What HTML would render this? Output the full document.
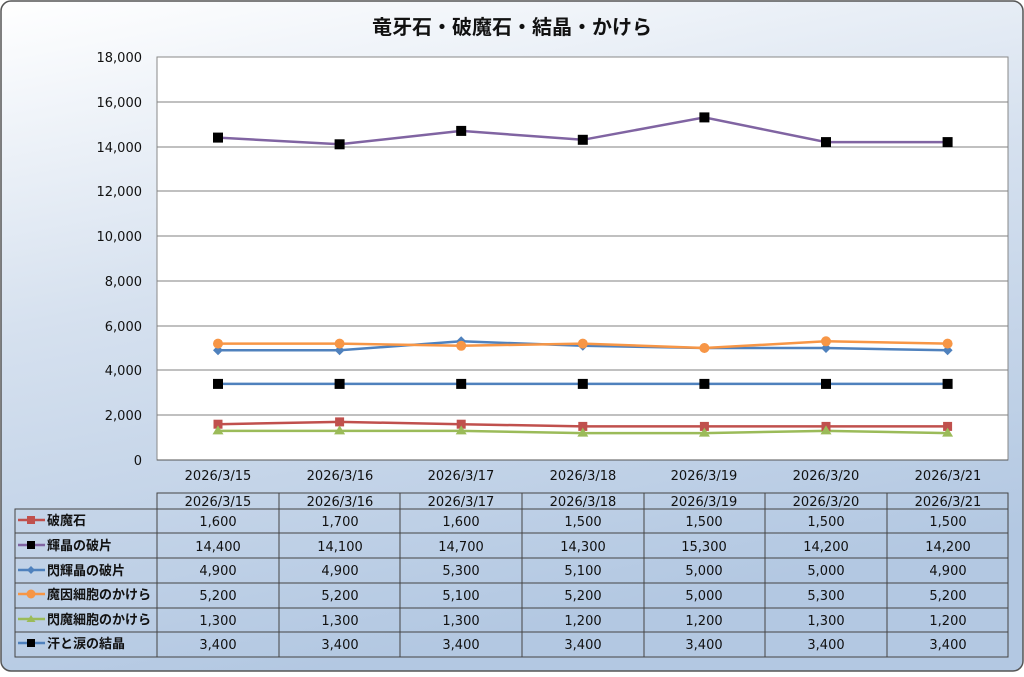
<!DOCTYPE html>
<html><head><meta charset="utf-8"><style>
body{margin:0;width:1024px;height:672px;overflow:hidden;background:#fff}
text{font-family:"DejaVu Sans","Noto Sans CJK JP",sans-serif;fill:#111}
</style></head><body>
<svg width="1024" height="672" xmlns="http://www.w3.org/2000/svg">
<defs><linearGradient id="bg" x1="0" y1="0" x2="0.3" y2="1">
<stop offset="0" stop-color="#ffffff"/><stop offset="0.45" stop-color="#d6e1ef"/><stop offset="1" stop-color="#b3c8e2"/></linearGradient></defs>
<rect x="1" y="1" width="1022" height="670" rx="10" fill="url(#bg)" stroke="#555" stroke-width="1.5"/>
<text x="512" y="34" text-anchor="middle" font-size="20" font-weight="bold">竜牙石・破魔石・結晶・かけら</text>
<rect x="157" y="57" width="851" height="403" fill="#fff" stroke="#888"/>
<g stroke="#808080" stroke-width="1">
<line x1="157" x2="1008" y1="102" y2="102"/><line x1="157" x2="1008" y1="147" y2="147"/>
<line x1="157" x2="1008" y1="191" y2="191"/><line x1="157" x2="1008" y1="236" y2="236"/>
<line x1="157" x2="1008" y1="281" y2="281"/><line x1="157" x2="1008" y1="326" y2="326"/>
<line x1="157" x2="1008" y1="370" y2="370"/><line x1="157" x2="1008" y1="415" y2="415"/>
<line x1="157" x2="1008" y1="460" y2="460" stroke="#555"/>
</g>
<g font-size="13" text-anchor="end">
<text x="142" y="62">18,000</text><text x="142" y="107">16,000</text><text x="142" y="152">14,000</text>
<text x="142" y="196">12,000</text><text x="142" y="241">10,000</text><text x="142" y="286">8,000</text>
<text x="142" y="331">6,000</text><text x="142" y="375">4,000</text><text x="142" y="420">2,000</text><text x="142" y="465">0</text>
</g>
<g font-size="13" text-anchor="middle">
<text x="218" y="480">2026/3/15</text><text x="340" y="480">2026/3/16</text><text x="461" y="480">2026/3/17</text>
<text x="583" y="480">2026/3/18</text><text x="704" y="480">2026/3/19</text><text x="826" y="480">2026/3/20</text><text x="948" y="480">2026/3/21</text>
</g>
<g fill="none" stroke-width="2.5">
<polyline stroke="#c0504d" points="218,424.2 339.6,421.9 461.2,424.2 582.8,426.4 704.4,426.4 826,426.4 947.6,426.4"/>
<polyline stroke="#8064a2" points="218,137.6 339.6,144.3 461.2,130.9 582.8,139.8 704.4,117.4 826,142.1 947.6,142.1"/>
<polyline stroke="#4f81bd" points="218,350.3 339.6,350.3 461.2,341.3 582.8,345.8 704.4,348 826,348 947.6,350.3"/>
<polyline stroke="#f79646" points="218,343.6 339.6,343.6 461.2,345.8 582.8,343.6 704.4,348 826,341.3 947.6,343.6"/>
<polyline stroke="#9bbb59" points="218,430.9 339.6,430.9 461.2,430.9 582.8,433.1 704.4,433.1 826,430.9 947.6,433.1"/>
<polyline stroke="#4f81bd" points="218,383.9 947.6,383.9"/>
</g>
<g>
<g fill="#c0504d"><rect x="213.5" y="419.7" width="9" height="9"/><rect x="335.1" y="417.4" width="9" height="9"/><rect x="456.7" y="419.7" width="9" height="9"/><rect x="578.3" y="421.9" width="9" height="9"/><rect x="699.9" y="421.9" width="9" height="9"/><rect x="821.5" y="421.9" width="9" height="9"/><rect x="943.1" y="421.9" width="9" height="9"/></g>
<g fill="#000"><rect x="213" y="132.6" width="10" height="10"/><rect x="334.6" y="139.3" width="10" height="10"/><rect x="456.2" y="125.9" width="10" height="10"/><rect x="577.8" y="134.8" width="10" height="10"/><rect x="699.4" y="112.4" width="10" height="10"/><rect x="821" y="137.1" width="10" height="10"/><rect x="942.6" y="137.1" width="10" height="10"/>
<rect x="213" y="378.9" width="10" height="10"/><rect x="334.6" y="378.9" width="10" height="10"/><rect x="456.2" y="378.9" width="10" height="10"/><rect x="577.8" y="378.9" width="10" height="10"/><rect x="699.4" y="378.9" width="10" height="10"/><rect x="821" y="378.9" width="10" height="10"/><rect x="942.6" y="378.9" width="10" height="10"/></g>
<g fill="#4f81bd"><path d="M218 345.3l5 5-5 5-5-5z M339.6 345.3l5 5-5 5-5-5z M461.2 336.3l5 5-5 5-5-5z M582.8 340.8l5 5-5 5-5-5z M704.4 343l5 5-5 5-5-5z M826 343l5 5-5 5-5-5z M947.6 345.3l5 5-5 5-5-5z"/></g>
<g fill="#f79646"><circle cx="218" cy="343.6" r="5"/><circle cx="339.6" cy="343.6" r="5"/><circle cx="461.2" cy="345.8" r="5"/><circle cx="582.8" cy="343.6" r="5"/><circle cx="704.4" cy="348" r="5"/><circle cx="826" cy="341.3" r="5"/><circle cx="947.6" cy="343.6" r="5"/></g>
<g fill="#9bbb59"><path d="M218 425.4l5.5 9h-11z M339.6 425.4l5.5 9h-11z M461.2 425.4l5.5 9h-11z M582.8 427.6l5.5 9h-11z M704.4 427.6l5.5 9h-11z M826 425.4l5.5 9h-11z M947.6 427.6l5.5 9h-11z"/></g>
</g>
<g stroke="#444" stroke-width="1" fill="none">
<rect x="157" y="493" width="851" height="164"/>
<rect x="15" y="509" width="993" height="148"/>
<line x1="15" x2="1008" y1="533" y2="533"/><line x1="15" x2="1008" y1="558" y2="558"/><line x1="15" x2="1008" y1="583" y2="583"/><line x1="15" x2="1008" y1="608" y2="608"/><line x1="15" x2="1008" y1="632" y2="632"/>
<line x1="279" x2="279" y1="493" y2="657"/><line x1="400" x2="400" y1="493" y2="657"/><line x1="522" x2="522" y1="493" y2="657"/><line x1="644" x2="644" y1="493" y2="657"/><line x1="765" x2="765" y1="493" y2="657"/><line x1="887" x2="887" y1="493" y2="657"/>
</g>
<g font-size="13" text-anchor="middle">
<text x="218" y="506">2026/3/15</text><text x="340" y="506">2026/3/16</text><text x="461" y="506">2026/3/17</text><text x="583" y="506">2026/3/18</text><text x="704" y="506">2026/3/19</text><text x="826" y="506">2026/3/20</text><text x="948" y="506">2026/3/21</text>
<g transform="translate(0,526)"><text x="218">1,600</text><text x="340">1,700</text><text x="461">1,600</text><text x="583">1,500</text><text x="704">1,500</text><text x="826">1,500</text><text x="948">1,500</text></g>
<g transform="translate(0,551)"><text x="218">14,400</text><text x="340">14,100</text><text x="461">14,700</text><text x="583">14,300</text><text x="704">15,300</text><text x="826">14,200</text><text x="948">14,200</text></g>
<g transform="translate(0,575)"><text x="218">4,900</text><text x="340">4,900</text><text x="461">5,300</text><text x="583">5,100</text><text x="704">5,000</text><text x="826">5,000</text><text x="948">4,900</text></g>
<g transform="translate(0,600)"><text x="218">5,200</text><text x="340">5,200</text><text x="461">5,100</text><text x="583">5,200</text><text x="704">5,000</text><text x="826">5,300</text><text x="948">5,200</text></g>
<g transform="translate(0,625)"><text x="218">1,300</text><text x="340">1,300</text><text x="461">1,300</text><text x="583">1,200</text><text x="704">1,200</text><text x="826">1,300</text><text x="948">1,200</text></g>
<g transform="translate(0,649)"><text x="218">3,400</text><text x="340">3,400</text><text x="461">3,400</text><text x="583">3,400</text><text x="704">3,400</text><text x="826">3,400</text><text x="948">3,400</text></g>
</g>
<g stroke-width="2.5">
<line x1="18" x2="45" y1="520" y2="520" stroke="#c0504d"/><rect x="27" y="516" width="8" height="8" fill="#c0504d"/>
<line x1="18" x2="45" y1="545" y2="545" stroke="#8064a2"/><rect x="27" y="541" width="8" height="8" fill="#000"/>
<line x1="18" x2="45" y1="570" y2="570" stroke="#4f81bd"/><path d="M31 566l4 4-4 4-4-4z" fill="#4f81bd" stroke="none"/>
<line x1="18" x2="45" y1="594" y2="594" stroke="#f79646"/><circle cx="31" cy="594" r="4.5" fill="#f79646" stroke="none"/>
<line x1="18" x2="45" y1="619" y2="619" stroke="#9bbb59"/><path d="M31 615l4.5 7h-9z" fill="#9bbb59" stroke="none"/>
<line x1="18" x2="45" y1="643" y2="643" stroke="#4f81bd"/><rect x="27" y="639" width="8" height="8" fill="#000"/>
</g>
<g font-size="13" font-weight="bold">
<text x="47" y="525">破魔石</text><text x="47" y="550">輝晶の破片</text><text x="47" y="575">閃輝晶の破片</text>
<text x="47" y="599">魔因細胞のかけら</text><text x="47" y="624">閃魔細胞のかけら</text><text x="47" y="648">汗と涙の結晶</text>
</g>
</svg>
</body></html>
